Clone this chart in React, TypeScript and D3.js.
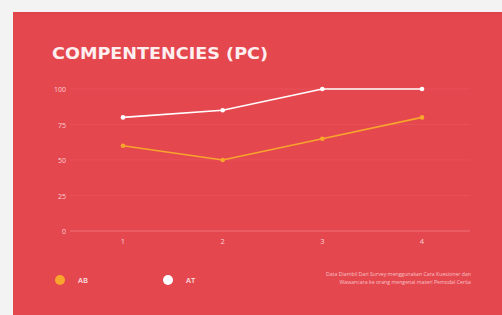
import * as d3 from "d3";

const categories = ["1", "2", "3", "4"];
const abValues = [60, 50, 65, 80];
const atValues = [80, 85, 100, 100];
const yTicks = [0, 25, 50, 75, 100];
const seriesNames = ["AB", "AT"];
const noteLines = [
  "Data Diambil Dari Survey menggunakan Cara Kuesioner dan",
  "Wawancara ke orang mengenai materi Pemodal Cerita",
];

const W = 502;
const H = 315;
const margin = { top: 89, right: 32, bottom: 84, left: 70 };

export default function App() {
  const innerLeft = margin.left;
  const innerRight = W - margin.right;
  const x = d3
    .scalePoint<string>()
    .domain(categories)
    .range([123, 422]);
  const y = d3
    .scaleLinear()
    .domain([0, 100])
    .range([H - margin.bottom, margin.top]);

  const line = d3
    .line<number>()
    .x((_, i) => x(categories[i]) as number)
    .y((d) => y(d));

  const colors = ["#f7a52c", "#ffffff"];
  const series = [abValues, atValues];

  return (
    <svg
      width={W}
      height={H}
      style={{ position: "fixed", left: 0, top: 0, background: "#f3f3f3" }}
      fontFamily="'Open Sans', sans-serif"
    >
      <rect x={13} y={12} width={W - 13} height={H - 12} fill="#e5474f" />
      <rect x={13} y={12} width={W - 13} height={3} fill="#e0454c" />
      <text
        x={52}
        y={59}
        fill="#fdeff0"
        fontSize={16}
        fontWeight={700}
        fontFamily="'DejaVu Sans', sans-serif"
        textLength={216}
        lengthAdjust="spacingAndGlyphs"
      >
        COMPENTENCIES (PC)
      </text>
      <g>
        {yTicks.map((t) => (
          <g key={t}>
            <line
              x1={innerLeft}
              x2={innerRight}
              y1={y(t)}
              y2={y(t)}
              stroke={t === 0 ? "#f17177" : "#e85158"}
              strokeWidth={1}
            />
            <text
              x={66}
              y={y(t) + 3}
              textAnchor="end"
              fill="#f9d2d4"
              fontSize={7}
            >
              {t}
            </text>
          </g>
        ))}
        {categories.map((c) => (
          <text
            key={c}
            x={x(c)}
            y={y(0) + 13}
            textAnchor="middle"
            fill="#f9d2d4"
            fontSize={7.5}
          >
            {c}
          </text>
        ))}
      </g>
      {series.map((s, si) => (
        <g key={si}>
          <path d={line(s) ?? ""} fill="none" stroke={colors[si]} strokeWidth={1.6} />
          {s.map((v, i) => (
            <circle key={i} cx={x(categories[i])} cy={y(v)} r={2.3} fill={colors[si]} />
          ))}
        </g>
      ))}
      <g>
        {seriesNames.map((n, i) => (
          <g key={n} transform={`translate(${60 + i * 108},280)`}>
            <circle r={5} fill={colors[i]} />
            <text x={18} y={3} fill="#fbe3e4" fontSize={7.5} fontWeight={600}>
              {n}
            </text>
          </g>
        ))}
        {noteLines.map((l, i) => (
          <text
            key={i}
            x={471}
            y={276 + i * 8}
            textAnchor="end"
            fill="#f6c2c5"
            fontSize={5.2}
          >
            {l}
          </text>
        ))}
      </g>
    </svg>
  );
}
